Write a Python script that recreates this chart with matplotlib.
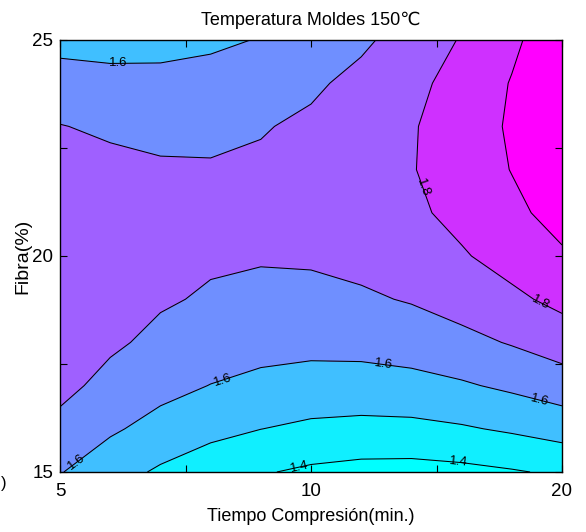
import matplotlib
matplotlib.use("Agg")
import matplotlib.pyplot as plt
import numpy as np

plt.rcParams['font.family'] = ['Liberation Sans', 'DejaVu Sans']

# Coded levels of compression time (-1 = 5 min, 0 = 10 min, 1 = 20 min)
tiempo_cod = [-1.0, -0.8, -0.6, -0.4, -0.2, 0.0, 0.2, 0.4, 0.6, 0.8, 1.0]
# Fibre content (%)
fibra = [15, 16, 17, 18, 19, 20, 21, 22, 23, 24, 25]

# Response surface at 150 °C, one row per fibre level (15 % ... 25 %)
respuesta = [
    [1.605, 1.540, 1.486, 1.442, 1.408, 1.383, 1.369, 1.366, 1.375, 1.392, 1.414],
    [1.673, 1.614, 1.566, 1.528, 1.501, 1.481, 1.473, 1.475, 1.490, 1.513, 1.541],
    [1.726, 1.672, 1.630, 1.598, 1.575, 1.562, 1.560, 1.569, 1.589, 1.618, 1.652],
    [1.763, 1.715, 1.678, 1.652, 1.635, 1.628, 1.632, 1.646, 1.673, 1.707, 1.747],
    [1.782, 1.741, 1.710, 1.690, 1.679, 1.677, 1.687, 1.707, 1.740, 1.780, 1.826],
    [1.787, 1.751, 1.726, 1.712, 1.707, 1.711, 1.727, 1.753, 1.791, 1.837, 1.888],
    [1.775, 1.745, 1.726, 1.717, 1.718, 1.729, 1.750, 1.782, 1.826, 1.878, 1.935],
    [1.747, 1.723, 1.710, 1.707, 1.714, 1.730, 1.758, 1.795, 1.845, 1.903, 1.966],
    [1.703, 1.686, 1.678, 1.681, 1.694, 1.716, 1.749, 1.792, 1.849, 1.912, 1.981],
    [1.644, 1.632, 1.630, 1.639, 1.657, 1.685, 1.725, 1.774, 1.836, 1.905, 1.980],
    [1.568, 1.562, 1.566, 1.581, 1.605, 1.639, 1.684, 1.739, 1.807, 1.882, 1.963],
]

niveles = [1.4, 1.5, 1.6, 1.7, 1.8, 1.9]
niveles_rotulados = [1.4, 1.6, 1.8]
colores = ['#00FFFF', '#10EFFF', '#40BFFF', '#6F8FFF', '#9F60FF', '#CF30FF', '#FF00FF']

xticks = [-1.0, -0.5, 0.0, 0.5, 1.0]
xticklabels = ['5', '', '10', '', '20']
yticks = [15, 17.5, 20, 22.5, 25]
yticklabels = ['15', '', '20', '', '25']

# Where the contour values are written (time coded, fibre %)
pos_etiquetas = [
    (-0.769, 24.47), (0.426, 21.55), (0.912, 18.90),
    (-0.350, 17.10), (0.287, 17.45), (0.912, 16.65),
    (-0.930, 15.20), (-0.044, 15.08), (0.586, 15.20),
]

X, Y = np.meshgrid(tiempo_cod, fibra)
Z = np.array(respuesta)

fig = plt.figure(figsize=(5.86, 5.32), dpi=100)
ax = fig.add_axes([60 / 586, 60 / 532, 502 / 586, 432 / 532])

bordes = [Z.min() - 0.05] + niveles + [Z.max() + 0.05]
ax.contourf(X, Y, Z, levels=bordes, colors=colores)
sin_rotulo = [v for v in niveles if v not in niveles_rotulados]
ax.contour(X, Y, Z, levels=sin_rotulo, colors='k', linewidths=0.75)
cs = ax.contour(X, Y, Z, levels=niveles_rotulados, colors='k', linewidths=0.75)
ax.clabel(cs, manual=pos_etiquetas, inline=False,
          fmt='%.1f', fontsize=9.5, colors='k')

ax.set_xlim(-1, 1)
ax.set_ylim(15, 25)
ax.set_xticks(xticks)
ax.set_xticklabels(xticklabels)
ax.set_yticks(yticks)
ax.set_yticklabels(yticklabels)
ax.tick_params(direction='in', top=True, right=True, length=5, width=0.8,
               labelsize=13.5, colors='k')
ax.tick_params(axis='x', pad=8)
ax.tick_params(axis='y', pad=5)
for s in ax.spines.values():
    s.set_linewidth(1.0)
    s.set_color('k')

ax.set_title('Temperatura Moldes 150℃', fontsize=13, pad=11)
ax.set_xlabel('Tiempo Compresión(min.)', fontsize=13, labelpad=6)
ax.set_ylabel('Fibra(%)', fontsize=14)
ax.yaxis.set_label_coords(-0.058, 0.5)

fig.text(0.002, 0.083, ')', fontsize=12)

fig.savefig('out.png', dpi=100)
